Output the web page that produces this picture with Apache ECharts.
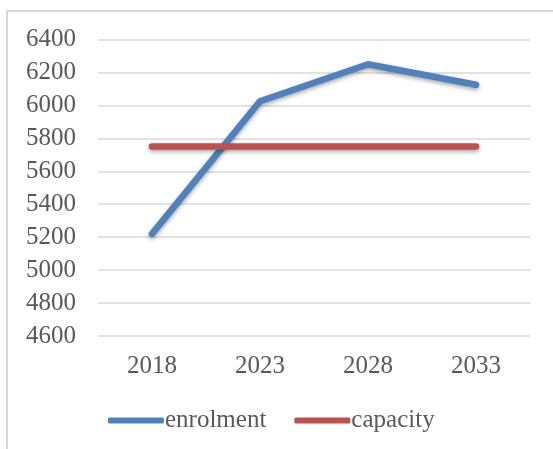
<!DOCTYPE html>
<html>
<head>
<meta charset="utf-8">
<script src="https://cdn.jsdelivr.net/npm/echarts@6/dist/echarts.min.js"></script>
<style>
  html, body {
    margin: 0;
    padding: 0;
    background: #fff;
  }
  .frame {
    position: absolute;
    left: 6px;
    top: 10px;
    width: 560px;
    height: 460px;
    border-left: 2px solid #d9d9d9;
    border-top: 2px solid #d9d9d9;
  }
  #chart {
    position: absolute;
    left: 0;
    top: 0;
    width: 553px;
    height: 449px;
  }
</style>
</head>
<body>
<div class="frame"></div>
<div id="chart"></div>
<script>
const years = ['2018', '2023', '2028', '2033']
const enrolment = [5220, 6025, 6250, 6125]
const capacity = [5750, 5750, 5750, 5750]

const textColor = '#595959'
const font = 'Liberation Serif'

const lineShadow = {
  shadowColor: 'rgba(0, 0, 0, 0.35)',
  shadowBlur: 4,
  shadowOffsetY: 2
}

const option = {
  animation: false,
  textStyle: {
    fontFamily: font
  },
  grid: {
    left: 98,
    right: 23,
    top: 39.5,
    bottom: 113
  },
  legend: {
    left: 103,
    top: 403,
    itemWidth: 56,
    itemHeight: 6,
    itemGap: 28,
    icon: 'roundRect',
    textStyle: {
      color: textColor,
      fontSize: 25,
      fontFamily: font,
      padding: [0, 0, 0, -4]
    },
    data: ['enrolment', 'capacity']
  },
  xAxis: {
    type: 'category',
    data: years,
    boundaryGap: true,
    axisLine: { show: false },
    axisTick: { show: false },
    axisLabel: {
      color: textColor,
      fontSize: 25,
      fontFamily: font,
      margin: 18
    }
  },
  yAxis: {
    type: 'value',
    min: 4600,
    max: 6400,
    interval: 200,
    axisLine: { show: false },
    axisTick: { show: false },
    axisLabel: {
      color: textColor,
      fontSize: 25,
      fontFamily: font,
      margin: 22,
      formatter: (v) => String(v)
    },
    splitLine: {
      lineStyle: {
        color: '#d9d9d9',
        width: 1.5
      }
    }
  },
  series: [
    {
      name: 'enrolment',
      type: 'line',
      data: enrolment,
      symbol: 'none',
      color: '#4f81bd',
      lineStyle: Object.assign({ width: 6.5, cap: 'round', join: 'round' }, lineShadow)
    },
    {
      name: 'capacity',
      type: 'line',
      data: capacity,
      symbol: 'none',
      color: '#c0504d',
      lineStyle: Object.assign({ width: 6.5, cap: 'round', join: 'round' }, lineShadow)
    }
  ]
}

const myChart = echarts.init(document.getElementById('chart'))
myChart.setOption(option)
</script>
</body>
</html>
